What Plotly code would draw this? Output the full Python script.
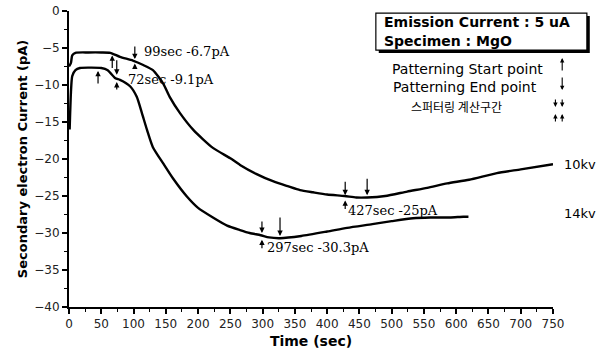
import plotly.graph_objects as go

# Secondary electron current vs. time, MgO specimen, 5 uA emission
t_10kv = [0, 3, 5, 10, 30, 50, 64, 79, 99, 115, 130, 146, 156, 172, 193, 223, 250, 265,
          290, 316, 340, 358, 378, 400, 427, 445, 462, 490, 524, 555, 586, 620, 663, 700, 750]
i_10kv = [-7.5, -7.0, -6.0, -5.65, -5.6, -5.6, -5.65, -6.2, -6.7, -7.3, -8.0, -9.8, -11.6,
          -13.8, -16.1, -18.5, -19.9, -20.8, -22.0, -23.0, -23.7, -24.2, -24.5, -24.8, -25.0,
          -25.2, -25.2, -25.0, -24.4, -23.9, -23.3, -22.8, -21.9, -21.4, -20.7]

t_14kv = [1, 3, 5, 10, 17, 30, 50, 60, 72, 79, 95, 105, 113, 121, 130, 146, 161, 183, 200,
          223, 245, 265, 280, 297, 310, 327, 360, 400, 431, 470, 500, 533, 560, 590, 611, 619]
i_14kv = [-16.0, -11.0, -8.8, -8.0, -7.7, -7.65, -7.7, -8.0, -9.1, -9.3, -10.2, -11.6, -13.8,
          -16.1, -18.4, -20.6, -22.6, -25.1, -26.6, -27.9, -29.0, -29.6, -30.0, -30.3, -30.6,
          -30.7, -30.4, -29.8, -29.3, -28.8, -28.4, -28.0, -27.9, -27.9, -27.8, -27.8]

# value callouts: text, label time, label current
callouts = [
    ("99sec -6.7pA", 113, -5.5),
    ("72sec -9.1pA", 89, -9.3),
    ("427sec -25pA", 430, -26.9),
    ("297sec -30.3pA", 303, -32.0),
]

# patterning / sputtering markers: time, current at tip, direction (+1 up, -1 down)
marker_t = [67, 74, 74, 45, 102, 102, 428, 462, 428, 299, 327, 299]
marker_i = [-6.0, -8.6, -9.6, -8.1, -6.5, -7.1, -24.9, -24.9, -25.6, -30.0, -30.4, -30.9]
marker_dir = [1, -1, 1, 1, -1, 1, -1, -1, 1, -1, -1, 1]
marker_len = [14, 16, 9, 14, 14, 7, 15, 18, 10, 13, 20, 10]

series_names = ["10kv", "14kv"]
series_label_i = [-20.7, -27.3]

SANS = "DejaVu Sans"
SERIF = "DejaVu Serif"

fig = go.Figure()
fig.add_trace(go.Scatter(x=t_10kv, y=i_10kv, mode="lines", name=series_names[0],
                         line=dict(color="black", width=2.4, shape="spline", smoothing=0.6)))
fig.add_trace(go.Scatter(x=t_14kv, y=i_14kv, mode="lines", name=series_names[1],
                         line=dict(color="black", width=2.4, shape="spline", smoothing=0.6)))

ann = []
for text, tx, iy in callouts:
    ann.append(dict(x=tx, y=iy, text=text, showarrow=False, xanchor="left", yanchor="middle",
                    font=dict(family=SERIF, size=13, color="black")))

for t, i, d, ln in zip(marker_t, marker_i, marker_dir, marker_len):
    ann.append(dict(x=t, y=i, text="", showarrow=True, ax=0, ay=ln * d,
                    arrowhead=2, arrowsize=0.9, arrowwidth=1.2, arrowcolor="black"))

for name, iy in zip(series_names, series_label_i):
    ann.append(dict(x=750, y=iy, text=name, showarrow=False, xanchor="left", xshift=9,
                    yanchor="middle", font=dict(family=SANS, size=13, color="black")))

# info box text
ann.append(dict(xref="paper", yref="paper", x=0.647, y=0.963, text="<b>Emission Current : 5 uA</b>",
                showarrow=False, xanchor="left", yanchor="middle",
                font=dict(family=SANS, size=14, color="black")))
ann.append(dict(xref="paper", yref="paper", x=0.647, y=0.898, text="<b>Specimen : MgO</b>",
                showarrow=False, xanchor="left", yanchor="middle",
                font=dict(family=SANS, size=14, color="black")))

# key for the arrow markers
key_lines = ["Patterning Start point", "Patterning End point", "스퍼터링 계산구간"]
key_x = [0.824, 0.818, 0.800]
key_y = [0.803, 0.742, 0.677]
for txt, kx, ky in zip(key_lines, key_x, key_y):
    korean = txt.startswith("스")
    ann.append(dict(xref="paper", yref="paper", x=kx, y=ky, text=txt, showarrow=False,
                    xanchor="center", yanchor="middle",
                    font=dict(family="Noto Sans CJK KR" if korean else SANS,
                              size=12 if korean else 14, color="black")))

key_arrows = [(1.019, 0.841, 14), (1.019, 0.733, -14),
              (1.005, 0.676, -9), (1.019, 0.676, -9),
              (1.005, 0.652, 9), (1.019, 0.652, 9)]
for kx, ky, ln in key_arrows:
    ann.append(dict(xref="paper", yref="paper", x=kx, y=ky, text="", showarrow=True, ax=0, ay=ln,
                    arrowhead=2, arrowsize=0.8, arrowwidth=1.1, arrowcolor="black"))

shapes = [
    dict(type="rect", xref="paper", yref="paper", x0=0.640, x1=1.076, y0=0.858, y1=0.983,
         fillcolor="black", line=dict(width=0), layer="above"),
    dict(type="rect", xref="paper", yref="paper", x0=0.634, x1=1.070, y0=0.868, y1=0.993,
         fillcolor="white", line=dict(color="black", width=1.2), layer="above"),
]

fig.update_layout(
    width=609, height=360,
    margin=dict(l=69, r=56, t=11, b=53, autoexpand=False),
    paper_bgcolor="white", plot_bgcolor="white",
    showlegend=False,
    font=dict(family=SANS, size=12, color="black"),
    annotations=ann,
    shapes=shapes,
)

fig.update_xaxes(
    range=[0, 750], dtick=50, tick0=0, automargin=False,
    showline=True, linecolor="black", linewidth=2,
    ticks="outside", ticklen=5, tickwidth=1.5, tickcolor="black",
    minor=dict(dtick=25, ticks="outside", ticklen=3, tickcolor="black", tickwidth=1.2),
    showgrid=False, zeroline=False,
    tickfont=dict(family=SANS, size=12, color="#222"),
    title=dict(text="<b>Time (sec)</b>", font=dict(family=SANS, size=14), standoff=6),
)
fig.update_yaxes(
    range=[-40, 0], dtick=5, tick0=0, automargin=False,
    showline=True, linecolor="black", linewidth=2,
    ticks="outside", ticklen=5, tickwidth=1.5, tickcolor="black",
    minor=dict(dtick=2.5, ticks="outside", ticklen=3, tickcolor="black", tickwidth=1.2),
    showgrid=False, zeroline=False,
    tickfont=dict(family=SANS, size=12, color="#222"),
    title=dict(text="<b>Secondary electron Current (pA)</b>",
               font=dict(family=SANS, size=13), standoff=4),
)

fig.write_html("out.html")
